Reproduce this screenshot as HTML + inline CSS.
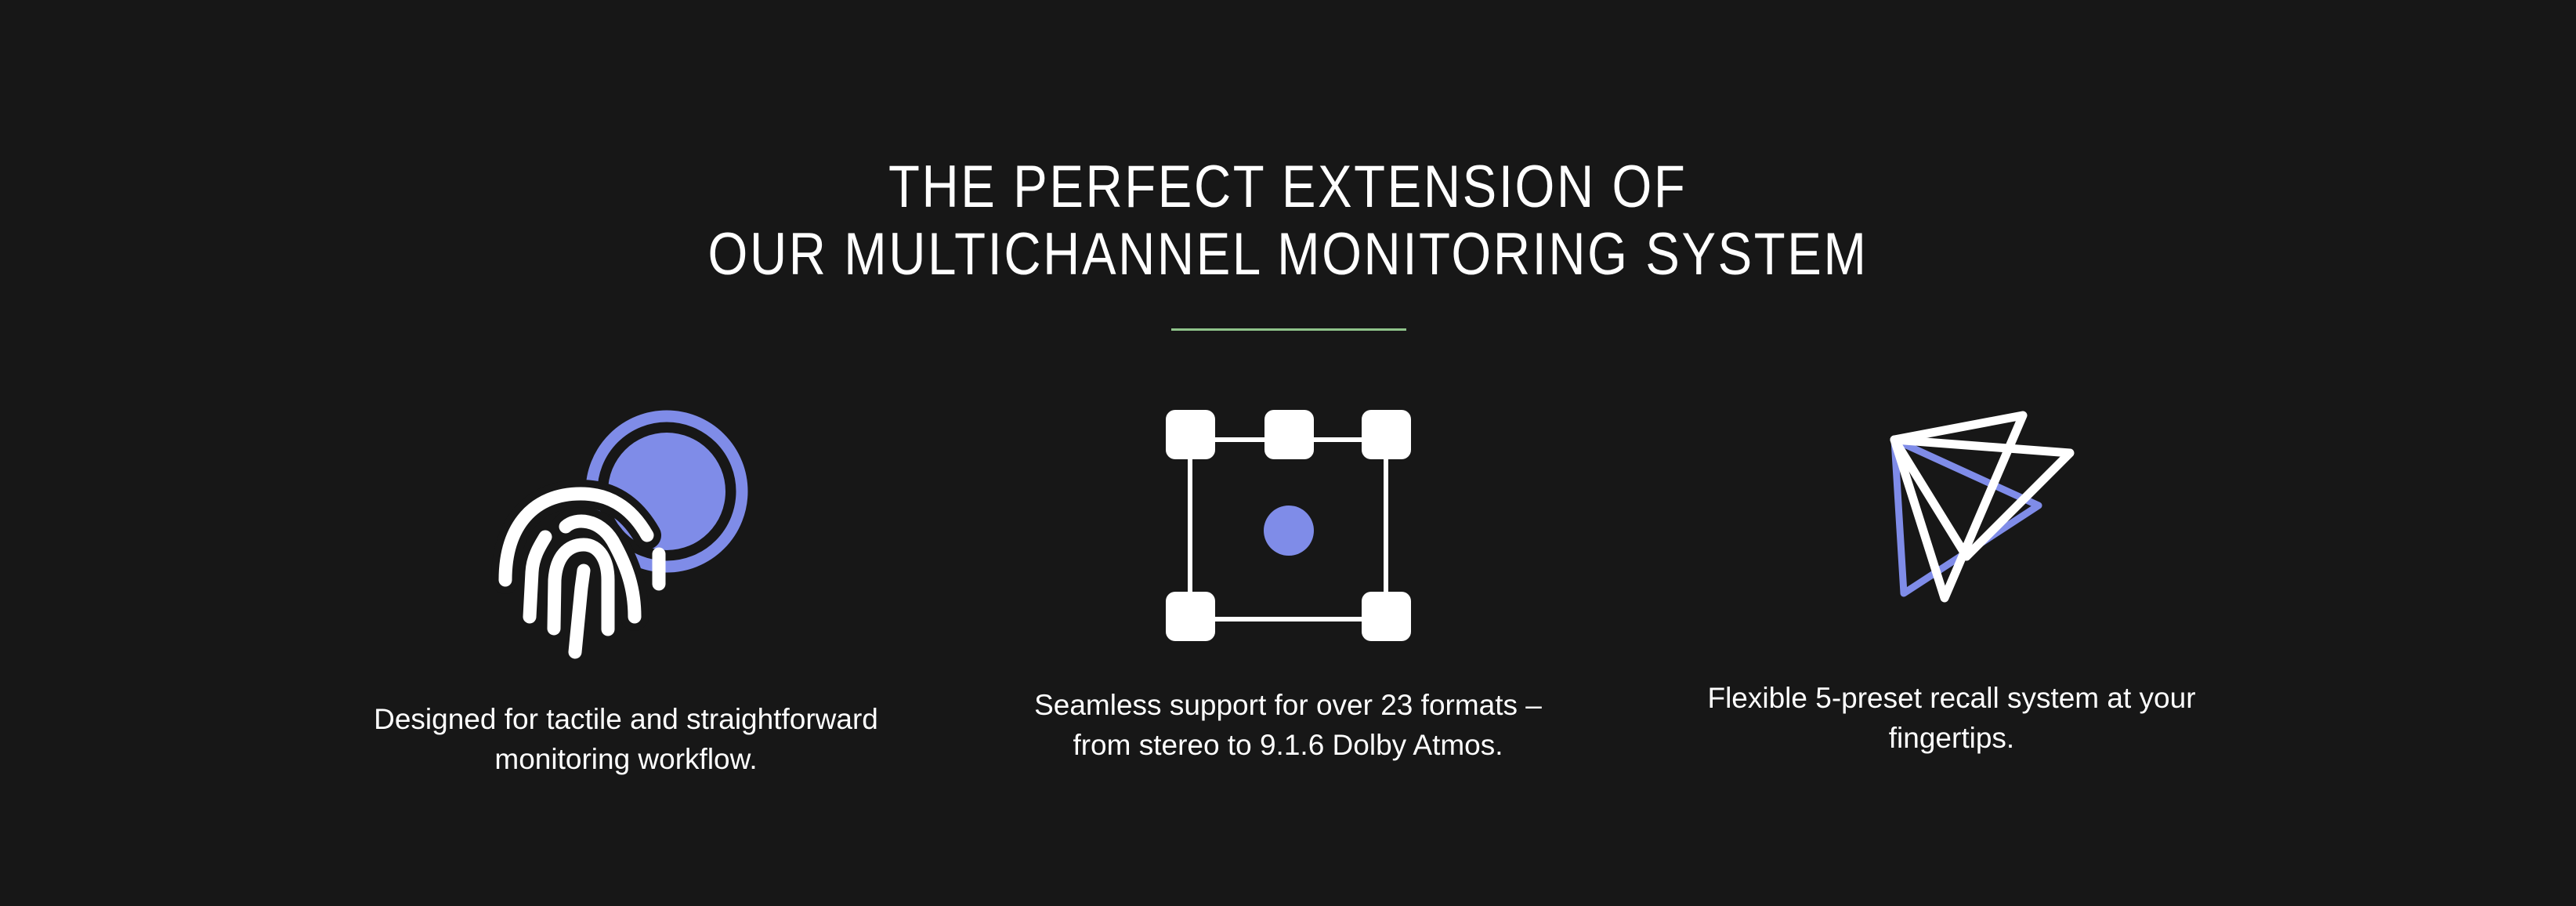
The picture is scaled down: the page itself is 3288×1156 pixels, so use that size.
<!DOCTYPE html>
<html><head><meta charset="utf-8"><style>
html,body{margin:0;padding:0;background:#171717;}
body{width:3288px;height:1156px;position:relative;overflow:hidden;font-family:"Liberation Sans",sans-serif;color:#fff;}
.t{position:absolute;left:0;width:3288px;text-align:center;font-size:76px;line-height:86px;letter-spacing:3px;}
.t span{display:inline-block;transform:scaleX(0.86);}
.p{position:absolute;width:1000px;text-align:center;font-size:37px;line-height:51px;}
</style></head><body>
<div class="t" style="top:196px"><span>THE PERFECT EXTENSION OF</span></div>
<div class="t" style="top:282px"><span>OUR MULTICHANNEL MONITORING SYSTEM</span></div>
<div style="position:absolute;left:1495px;top:419px;width:300px;height:3px;background:#8fc38a"></div>
<svg width="3288" height="1156" style="position:absolute;left:0;top:0">
 <circle cx="851" cy="627" r="96" fill="none" stroke="#7f8ce8" stroke-width="15"/>
 <circle cx="851" cy="627" r="75" fill="#7f8ce8"/>
 <g fill="none" stroke="#fff" stroke-width="17" stroke-linecap="round">
  <path d="M645,740 C645,670 682,630 741,630 C785,630 810,655 826,683" stroke="#171717" stroke-width="36"/>
  <path d="M645,740 C645,670 682,630 741,630 C785,630 810,655 826,683"/>
  <path d="M722,672 C735,660 765,662 782,690 C800,722 810,750 810,787" stroke="#171717" stroke-width="36"/>
  <path d="M722,672 C735,660 765,662 782,690 C800,722 810,750 810,787"/>
  <path d="M676,787 L679,730 C680,710 690,695 696,685"/>
  <path d="M707,802 L708,740 C710,710 725,695 745,695 C765,695 776,715 776,740 L776,803"/>
  <path d="M734,832 L742,750 L745,728"/>
  <path d="M841,707 L841,745"/>
 </g>
 <g stroke="#fff" stroke-width="6"><path d="M1519,561 H1769 M1519,790 H1769 M1519,555 V790 M1769,555 V790" fill="none"/></g>
 <g fill="#fff">
  <rect x="1488" y="523" width="63" height="63" rx="12"/>
  <rect x="1614" y="523" width="63" height="63" rx="12"/>
  <rect x="1738" y="523" width="63" height="63" rx="12"/>
  <rect x="1488" y="755" width="63" height="63" rx="12"/>
  <rect x="1738" y="755" width="63" height="63" rx="12"/>
 </g>
 <circle cx="1645" cy="677" r="32" fill="#7f8ce8"/>
 <g fill="none" stroke-linejoin="round" stroke-linecap="round">
  <path d="M2418,561 L2602,645 L2430,757 Z" stroke="#7f8ce8" stroke-width="9"/>
  <path d="M2418,561 L2582,530 L2482,763 Z" stroke="#fff" stroke-width="11"/>
  <path d="M2418,561 L2642,578 L2510,710 Z" stroke="#fff" stroke-width="11"/>
 </g>
</svg>
<div class="p" style="left:299px;top:892px">Designed for tactile and straightforward<br>monitoring workflow.</div>
<div class="p" style="left:1144px;top:874px">Seamless support for over 23 formats –<br>from stereo to 9.1.6 Dolby Atmos.</div>
<div class="p" style="left:1991px;top:865px">Flexible 5-preset recall system at your<br>fingertips.</div>
</body></html>
